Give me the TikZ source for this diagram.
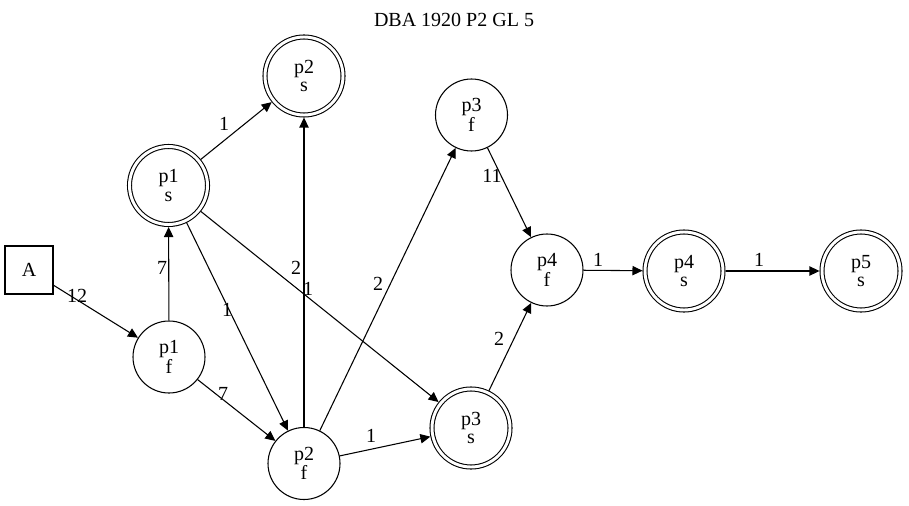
\documentclass[tikz,border=0pt]{standalone}
\usepackage{fontspec}
\setmainfont{Liberation Serif}
\usetikzlibrary{arrows.meta}
\begin{document}
\begin{tikzpicture}[x=0.75pt,y=-0.75pt,
  txt/.style={font=\fontsize{15}{13.75}\selectfont},
  state/.style={txt, draw, circle, line width=0.8pt, minimum size=54pt, inner sep=0pt, align=center},
  final/.style={state, double, double distance=2.2pt, minimum size=58.5pt, outer sep=1.9pt},
  start/.style={txt, draw, rectangle, line width=0.8pt, minimum size=36pt, inner sep=0pt},
  edge/.style={draw, line width=0.8pt, -{Triangle[length=7.5pt,width=7pt]}},
  lbl/.style={txt, inner sep=0pt}]
\useasboundingbox (0,0) rectangle (909,506);

\node[txt] (title) at (454,20) {DBA 1920 P2 GL 5};

% states
\node[start] (A)   at (29,270)  {A};
\node[state] (p1f) at (169,357) {p1\\f};
\node[final] (p1s) at (168.5,185.5) {p1\\s};
\node[final] (p2s) at (304,76)  {p2\\s};
\node[state] (p2f) at (304,463.5) {p2\\f};
\node[state] (p3f) at (471.5,115) {p3\\f};
\node[final] (p3s) at (471,428) {p3\\s};
\node[state] (p4f) at (547,270) {p4\\f};
\node[final] (p4s) at (684,271) {p4\\s};
\node[final] (p5s) at (861,271) {p5\\s};

% transitions
\draw[edge] (A) -- (p1f);
\draw[edge] (p1f) -- (p1s);
\draw[edge] (p1s) -- (p2s);
\draw[edge] (p1s) -- (p2f);
\draw[edge] (p1s) -- (p3s);
\draw[edge] (p1f) -- (p2f);
\draw[edge] (p2f) -- (p2s);
\draw[edge] (p2f) -- (p3f);
\draw[edge] (p2f) -- (p3s);
\draw[edge] (p3f) -- (p4f);
\draw[edge] (p3s) -- (p4f);
\draw[edge] (p4f) -- (p4s);
\draw[edge] (p4s) -- (p5s);

% weights
\node[lbl] (w1)  at (77,296)  {12};
\node[lbl] (w2)  at (162,268) {7};
\node[lbl] (w3)  at (224,124) {1};
\node[lbl] (w4)  at (296,268) {2};
\node[lbl] (w5)  at (308,289) {1};
\node[lbl] (w6)  at (227,310) {1};
\node[lbl] (w7)  at (378,284) {2};
\node[lbl] (w8)  at (223,394) {7};
\node[lbl] (w9)  at (371,436) {1};
\node[lbl] (w10) at (492,176) {11};
\node[lbl] (w11) at (499,339) {2};
\node[lbl] (w12) at (598,260) {1};
\node[lbl] (w13) at (759,260) {1};
\end{tikzpicture}
\end{document}
